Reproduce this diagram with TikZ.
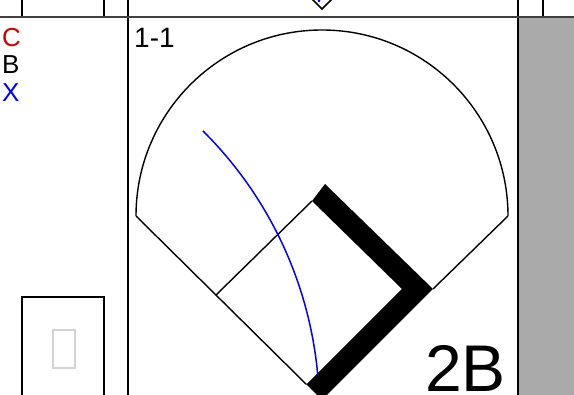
\documentclass[tikz,border=0pt]{standalone}
\usepackage{fontspec}
\setmainfont{Liberation Sans}
\usetikzlibrary{positioning}
\definecolor{cred}{HTML}{CC0000}
\definecolor{cblue}{HTML}{0000FF}
\definecolor{cgray}{HTML}{AAAAAA}
\definecolor{clgray}{HTML}{D3D3D3}
\tikzset{
  rule/.style={black,line width=1.5pt},
  field/.style={black,line width=1.4pt},
  track/.style={cblue,line width=1.5pt},
  lbl/.style={anchor=base west,inner sep=0pt,font=\fontsize{26}{30}\selectfont},
}

\begin{document}
\begin{tikzpicture}[x=1pt,y=-1pt]
    \useasboundingbox (0,0) rectangle (574,395);
    % grey column on the right
    \fill[cgray] (518,17) rectangle (574,395);
    % cell rules
    \draw[rule] (22,0)--(22,17) (104,0)--(104,17) (543,0)--(543,17);
    \draw[rule] (128,0)--(128,395) (518,0)--(518,395);
    \draw[black!75,line width=2pt] (0,17)--(574,17);
    % diamond of the cell above
    \draw[rule] (312,-1)--(322,9)--(332,-1);
    \fill[cblue] (319,1) circle (1.5);
    % count box
    \draw[rule] (22,395)--(22,297)--(104,297)--(104,395);
    \draw[clgray,line width=1.5pt] (53,330) rectangle (75,368);
    % field
    \draw[field] (136,216) arc[start angle=180,end angle=0,radius=186pt];
    \draw[field] (136,216)--(306.5,384.5) (508,216)--(433,289);
    \draw[field] (216,295)--(312,201);
    % bases reached
    \fill[black] (325,184)--(433,289)--(322,400)--(306.5,384.5)
                 --(402,289)--(312,201)--cycle;
    % ball track
    \draw[track] (203,131) arc[start angle=45.2,end angle=5.2,radius=394pt];
    % labels
    \node[lbl,cred] (pitchC) at (2,46.5) {C};
    \node[lbl] (pitchB) at (2,74) {B};
    \node[lbl,cblue] (pitchX) at (2,101.5) {X};
    \node[lbl,font=\fontsize{28}{32}\selectfont] (count) at (134,48) {1-1};
    \node[lbl,font=\fontsize{66}{70}\selectfont] (result) at (425,392) {2B};
\end{tikzpicture}
\end{document}
